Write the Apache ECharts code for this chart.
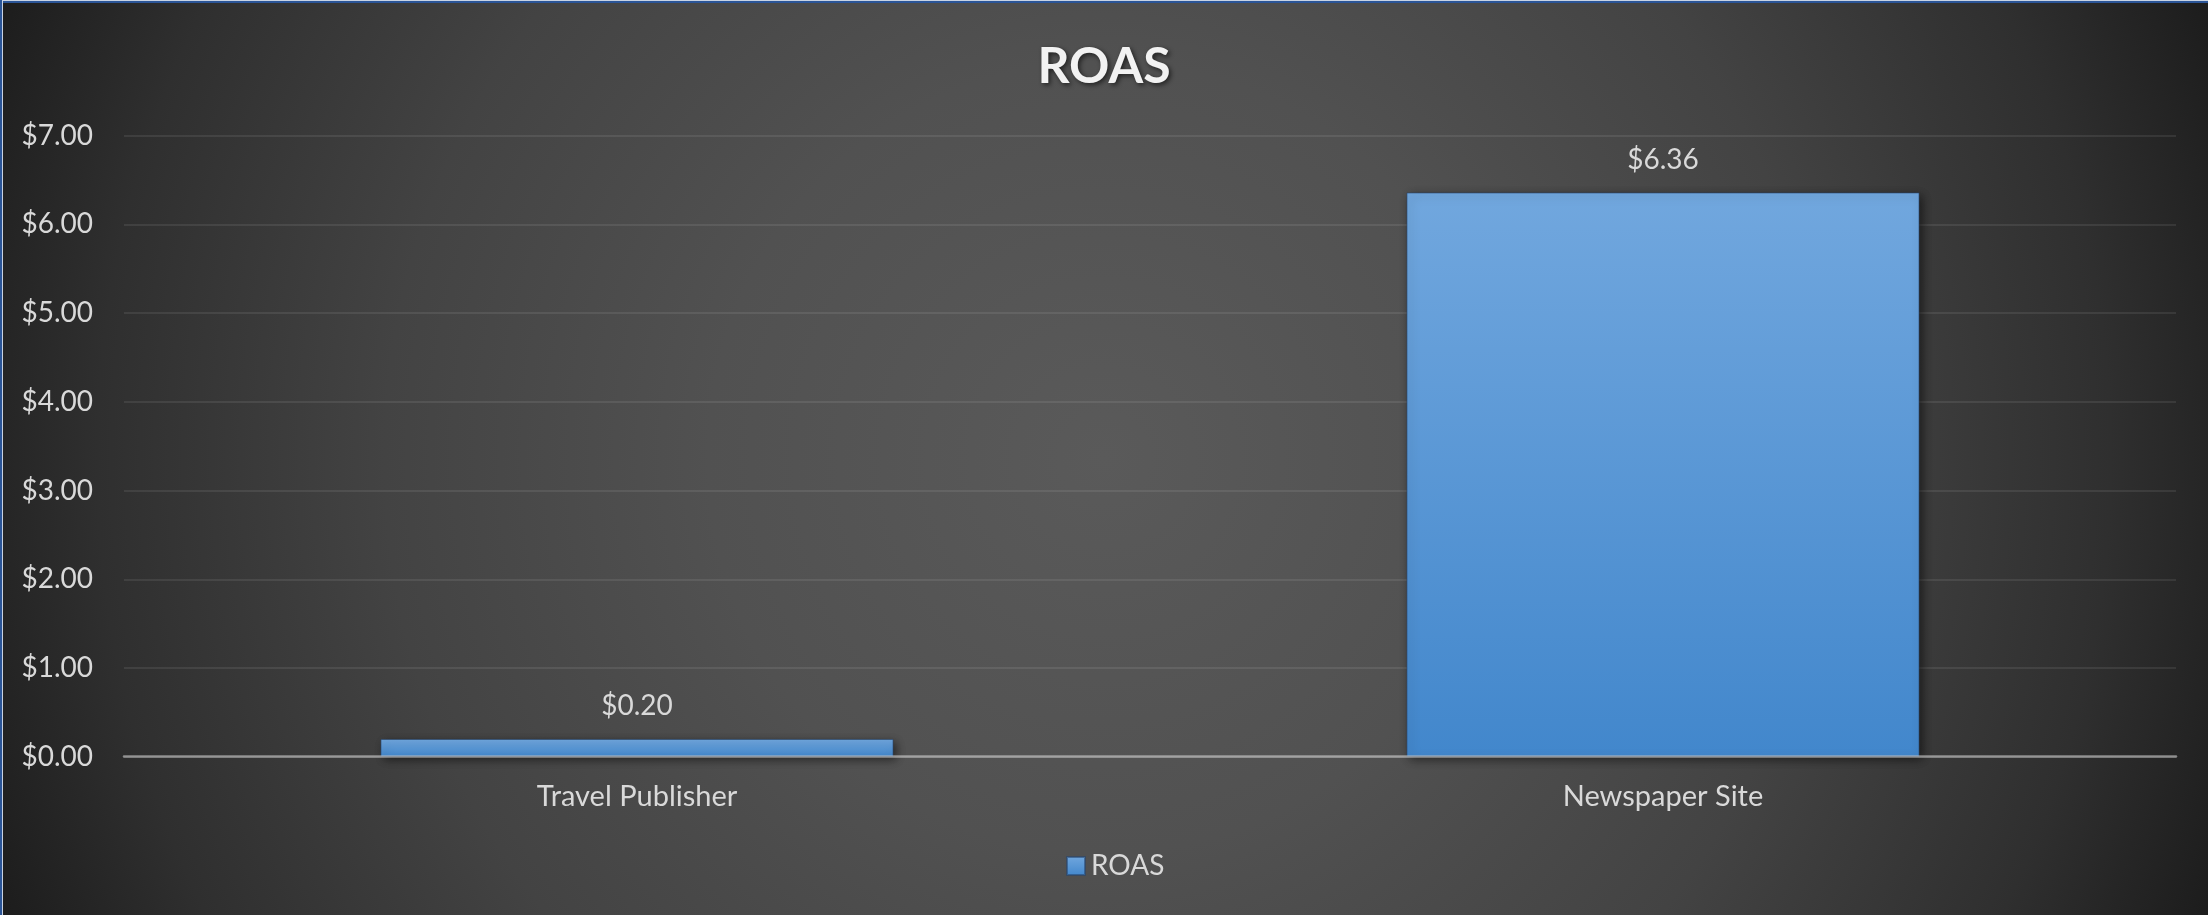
<!DOCTYPE html>
<html>
<head>
<meta charset="utf-8">
<title>ROAS</title>
<script src="https://cdn.jsdelivr.net/npm/echarts@6/dist/echarts.min.js"></script>
<style>
  html, body { margin: 0; padding: 0; background: #1e1e1e; }
  #wrap { position: relative; width: 2208px; height: 915px; overflow: hidden; }
  #chart { position: absolute; left: 0; top: 0; width: 2208px; height: 915px; }
  .edge-top { position: absolute; left: 0; top: 0; width: 2208px; height: 3px;
              background: linear-gradient(#c9d3e3 0, #c9d3e3 1px, #2b5597 1px, #2b5597 3px); }
  .edge-left { position: absolute; left: 0; top: 0; width: 3px; height: 915px;
               background: linear-gradient(90deg, #2b5597 0, #2b5597 2px, #c9d3e3 2px, #c9d3e3 3px); }
</style>
</head>
<body>
<div id="wrap">
  <div id="chart"></div>
  <div class="edge-top"></div>
  <div class="edge-left"></div>
</div>
<script>
// Return on ad spend by placement
const chartTitle = 'ROAS';
const seriesName = 'ROAS';
const categories = ['Travel Publisher', 'Newspaper Site'];
const roasValues = [0.20, 6.36];
const yMin = 0;
const yMax = 7;
const yStep = 1;

const money = v => '$' + Number(v).toFixed(2);
const FONT = 'Lato, "Open Sans", "Noto Sans", sans-serif';
const TEXT = '#d9d9d9';

const chart = echarts.init(document.getElementById('chart'), null, { renderer: 'canvas' });

chart.setOption({
  animation: false,
  backgroundColor: {
    type: 'radial', x: 0.5, y: 0.5, r: 1.31,
    colorStops: [
      { offset: 0, color: '#5a5a5a' },
      { offset: 0.33, color: '#515151' },
      { offset: 0.6, color: '#434343' },
      { offset: 0.84, color: '#2f2f2f' },
      { offset: 1, color: '#1c1c1c' }
    ]
  },
  title: {
    text: chartTitle,
    left: 'center',
    top: 37,
    textStyle: {
      fontFamily: FONT,
      fontSize: 50,
      fontWeight: 'bold',
      color: '#f2f2f2',
      textShadowColor: 'rgba(0,0,0,0.6)',
      textShadowBlur: 5,
      textShadowOffsetX: 2,
      textShadowOffsetY: 2
    }
  },
  legend: {
    data: [seriesName],
    left: 1061,
    top: 847,
    icon: 'rect',
    itemWidth: 18,
    itemHeight: 18,
    textStyle: { fontFamily: FONT, fontSize: 28, color: TEXT, padding: [0, 0, 0, 1] }
  },
  grid: {
    left: 124,
    right: 32,
    top: 135.7,
    bottom: 158.3,
    containLabel: false,
    outerBoundsMode: 'none'
  },
  xAxis: {
    type: 'category',
    data: categories,
    z: 3,
    axisLine: { show: true, lineStyle: { color: 'rgba(217,217,217,0.55)', width: 2.5 } },
    axisTick: { show: false },
    axisLabel: { margin: 25, fontFamily: FONT, fontSize: 29, color: TEXT },
    splitLine: { show: false }
  },
  yAxis: {
    type: 'value',
    min: yMin,
    max: yMax,
    interval: yStep,
    axisLine: { show: false },
    axisTick: { show: false },
    axisLabel: { margin: 31, fontFamily: FONT, fontSize: 28, color: TEXT, formatter: money },
    splitLine: { show: true, lineStyle: { color: 'rgba(255,255,255,0.11)', width: 1.5 } }
  },
  series: [{
    name: seriesName,
    type: 'bar',
    data: roasValues,
    barWidth: '50%',
    itemStyle: {
      color: {
        type: 'linear', x: 0, y: 0, x2: 0, y2: 1,
        colorStops: [
          { offset: 0, color: '#71a7de' },
          { offset: 1, color: '#4287cc' }
        ]
      },
      borderColor: 'rgba(40,70,110,0.6)',
      borderWidth: 1,
      shadowColor: 'rgba(0,0,0,0.55)',
      shadowBlur: 10,
      shadowOffsetX: 3,
      shadowOffsetY: 3
    },
    label: {
      show: true,
      position: 'top',
      distance: 19,
      fontFamily: FONT,
      fontSize: 28,
      color: TEXT,
      formatter: p => money(p.value)
    }
  }]
});
</script>
</body>
</html>
